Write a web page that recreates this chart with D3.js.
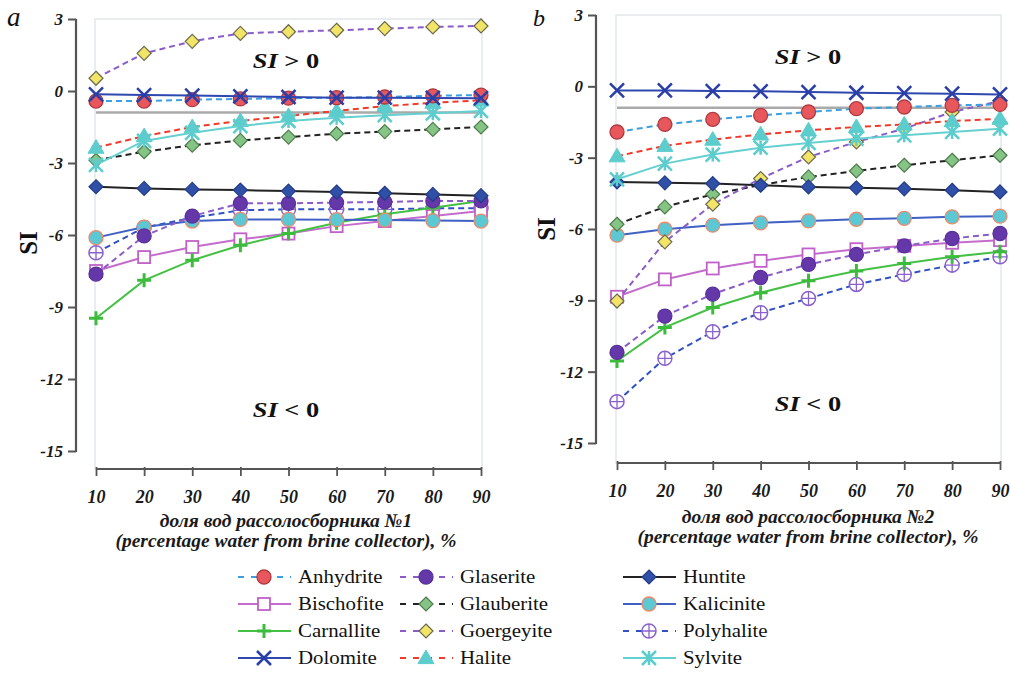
<!DOCTYPE html>
<html><head><meta charset="utf-8">
<script src="https://cdn.jsdelivr.net/npm/d3@7/dist/d3.min.js"></script>
<style>
body{margin:0;background:#fff;}
text{font-family:"Liberation Serif","Times New Roman",serif;}
</style></head>
<body><svg id="c" width="1011" height="676"></svg>
<script>
// ---------- DATA ----------
const xValues = [10,20,30,40,50,60,70,80,90];
const yTicks = [3,0,-3,-6,-9,-12,-15];
const refLine = -0.9;
const minerals = ["Anhydrite","Bischofite","Carnallite","Dolomite","Glaserite","Glauberite","Goergeyite","Halite","Huntite","Kalicinite","Polyhalite","Sylvite"];

// panel a
const aAnhydrite  = [-0.42,-0.42,-0.36,-0.33,-0.30,-0.28,-0.25,-0.20,-0.17];
const aBischofite = [-7.50,-6.92,-6.50,-6.18,-5.94,-5.63,-5.42,-5.21,-5.00];
const aCarnallite = [-9.47,-7.89,-7.05,-6.43,-5.94,-5.49,-5.14,-4.86,-4.58];
const aDolomite   = [-0.14,-0.17,-0.19,-0.22,-0.25,-0.28,-0.28,-0.29,-0.30];
const aGlaserite  = [-7.63,-6.04,-5.21,-4.68,-4.68,-4.65,-4.62,-4.58,-4.58];
const aGlauberite = [-2.89,-2.53,-2.26,-2.06,-1.92,-1.78,-1.69,-1.60,-1.50];
const aGoergeyite = [0.53,1.57,2.07,2.40,2.47,2.53,2.60,2.67,2.71];
const aHalite     = [-2.36,-1.88,-1.50,-1.25,-1.04,-0.83,-0.63,-0.49,-0.39];
const aHuntite    = [-3.99,-4.06,-4.10,-4.13,-4.17,-4.21,-4.26,-4.31,-4.36];
const aKalicinite = [-6.11,-5.67,-5.42,-5.35,-5.35,-5.36,-5.38,-5.40,-5.42];
const aPolyhalite = [-6.74,-5.69,-5.28,-4.97,-4.93,-4.93,-4.93,-4.89,-4.89];
const aSylvite    = [-3.08,-2.08,-1.74,-1.46,-1.25,-1.11,-1.01,-0.93,-0.83];

// panel b
const bAnhydrite  = [-1.92,-1.60,-1.39,-1.22,-1.08,-0.94,-0.87,-0.80,-0.76];
const bBischofite = [-8.85,-8.12,-7.66,-7.34,-7.07,-6.85,-6.71,-6.58,-6.47];
const bCarnallite = [-11.55,-10.14,-9.30,-8.68,-8.18,-7.77,-7.45,-7.17,-6.96];
const bDolomite   = [-0.17,-0.17,-0.20,-0.21,-0.24,-0.27,-0.29,-0.31,-0.34];
const bGlaserite  = [-11.19,-9.66,-8.74,-8.04,-7.49,-7.07,-6.71,-6.40,-6.19];
const bGlauberite = [-5.80,-5.07,-4.54,-4.15,-3.81,-3.56,-3.32,-3.11,-2.90];
const bGoergeyite = [-9.03,-6.54,-4.96,-3.88,-2.97,-2.34,-1.78,-1.08,-0.62];
const bHalite     = [-2.94,-2.50,-2.24,-2.02,-1.85,-1.71,-1.60,-1.46,-1.36];
const bHuntite    = [-4.02,-4.06,-4.09,-4.16,-4.23,-4.27,-4.31,-4.37,-4.44];
const bKalicinite = [-6.26,-6.01,-5.84,-5.74,-5.66,-5.59,-5.55,-5.49,-5.46];
const bPolyhalite = [-13.26,-11.44,-10.32,-9.52,-8.92,-8.33,-7.91,-7.52,-7.17];
const bSylvite    = [-3.91,-3.25,-2.87,-2.58,-2.38,-2.20,-2.06,-1.92,-1.78];

const panelAData = [aAnhydrite,aBischofite,aCarnallite,aDolomite,aGlaserite,aGlauberite,aGoergeyite,aHalite,aHuntite,aKalicinite,aPolyhalite,aSylvite];
const panelBData = [bAnhydrite,bBischofite,bCarnallite,bDolomite,bGlaserite,bGlauberite,bGoergeyite,bHalite,bHuntite,bKalicinite,bPolyhalite,bSylvite];

// ---------- STYLES ----------
const styles = {
  Anhydrite:  {line:"#3d9ee0", dash:"6,4", m:"circle", fill:"#e8575c", stroke:"#b03a3e"},
  Bischofite: {line:"#c46ccc", dash:null, m:"square", fill:"#fff", stroke:"#c060c8"},
  Carnallite: {line:"#44c044", dash:null, m:"plus", fill:"none", stroke:"#3cbc3c"},
  Dolomite:   {line:"#2e48b0", dash:null, m:"x", fill:"none", stroke:"#2a3ea8"},
  Glaserite:  {line:"#8a5cc8", dash:"6,4", m:"circle", fill:"#6438a8", stroke:"#5a309c"},
  Glauberite: {line:"#222", dash:"6,4", m:"diamond", fill:"#86c486", stroke:"#4c7c4c"},
  Goergeyite: {line:"#8a5cc8", dash:"6,4", m:"diamond", fill:"#f2e466", stroke:"#6a6a50"},
  Halite:     {line:"#f03a2a", dash:"6,4", m:"triangle", fill:"#5ccccc", stroke:"#5ccccc"},
  Huntite:    {line:"#222", dash:null, m:"diamond", fill:"#3050a8", stroke:"#223c88"},
  Kalicinite: {line:"#4060c4", dash:null, m:"circle", fill:"#5cc8d4", stroke:"#f08868"},
  Polyhalite: {line:"#3050c4", dash:"6,4", m:"circlecross", fill:"#fff", stroke:"#8a62cc"},
  Sylvite:    {line:"#66d0d0", dash:null, m:"asterisk", fill:"none", stroke:"#5ccccc"}
};

const svg = d3.select("#c");

function marker(g, type, x, y, st, s) {
  s = s || 7;
  if (type === "circle") {
    g.append("circle").attr("cx",x).attr("cy",y).attr("r",s).attr("fill",st.fill).attr("stroke",st.stroke).attr("stroke-width",1.3);
  } else if (type === "square") {
    g.append("rect").attr("x",x-s+1).attr("y",y-s+1).attr("width",2*s-2).attr("height",2*s-2).attr("fill",st.fill).attr("stroke",st.stroke).attr("stroke-width",1.8);
  } else if (type === "plus") {
    g.append("path").attr("d",`M${x-s},${y}H${x+s}M${x},${y-s}V${y+s}`).attr("stroke",st.stroke).attr("stroke-width",3);
  } else if (type === "x") {
    g.append("path").attr("d",`M${x-s},${y-s}L${x+s},${y+s}M${x-s},${y+s}L${x+s},${y-s}`).attr("stroke",st.stroke).attr("stroke-width",2.5);
  } else if (type === "asterisk") {
    g.append("path").attr("d",`M${x-s},${y-s}L${x+s},${y+s}M${x-s},${y+s}L${x+s},${y-s}M${x},${y-s}V${y+s}`).attr("stroke",st.stroke).attr("stroke-width",2.5);
  } else if (type === "diamond") {
    g.append("path").attr("d",`M${x},${y-s}L${x+s},${y}L${x},${y+s}L${x-s},${y}Z`).attr("fill",st.fill).attr("stroke",st.stroke).attr("stroke-width",1.2);
  } else if (type === "triangle") {
    g.append("path").attr("d",`M${x},${y-s-1}L${x+s+1},${y+s*0.8}L${x-s-1},${y+s*0.8}Z`).attr("fill",st.fill).attr("stroke",st.stroke);
  } else if (type === "circlecross") {
    g.append("circle").attr("cx",x).attr("cy",y).attr("r",s).attr("fill",st.fill).attr("stroke",st.stroke).attr("stroke-width",1.5);
    g.append("path").attr("d",`M${x-s},${y}H${x+s}M${x},${y-s}V${y+s}`).attr("stroke",st.stroke).attr("stroke-width",1.3);
  }
}

// text with horizontal stretch
function stretchedText(g, x, y, sx) {
  return g.append("g").attr("transform",`translate(${x},${y}) scale(${sx},1)`).append("text");
}

function panel(opt) {
  const x = d3.scaleLinear().domain([10,90]).range([opt.x0, opt.x1]);
  const y = d3.scaleLinear().domain([-15,3]).range([opt.yBottom, opt.yTop]);
  const g = svg.append("g");

  // faint plot frame
  g.append("rect").attr("x",opt.x0-1).attr("y",opt.yTop).attr("width",opt.x1-opt.x0+2).attr("height",opt.xAxisY-opt.yTop)
    .attr("fill","none").attr("stroke","#e4e8ec").attr("stroke-width",1.5);

  // y axis
  const ya = g.append("g").attr("transform",`translate(${opt.yAxisX},0)`)
    .call(d3.axisLeft(y).tickValues(yTicks).tickSize(8).tickFormat(d => String(d)));
  ya.select(".domain").attr("stroke","#555").attr("stroke-width",2.2).attr("d",`M0,${opt.yTop}V${opt.yBottom+1}`);
  ya.selectAll(".tick line").attr("stroke","#555").attr("stroke-width",2);
  ya.selectAll(".tick text").attr("font-weight","bold").attr("font-style","italic")
    .attr("font-size",17).attr("fill","#1a1a1a").attr("x",-13);

  // x axis
  const xa = g.append("g").attr("transform",`translate(0,${opt.xAxisY})`)
    .call(d3.axisBottom(x).tickValues(xValues).tickSize(6).tickFormat(d => String(d)));
  xa.select(".domain").attr("stroke","#555").attr("stroke-width",2.2).attr("d",`M${opt.x0},0H${opt.x1}`);
  xa.selectAll(".tick line").attr("stroke","#555").attr("stroke-width",1.8).attr("y1",-2).attr("y2",7);
  xa.selectAll(".tick text").attr("font-weight","bold").attr("font-style","italic")
    .attr("font-size",18).attr("fill","#1a1a1a").attr("y",21);

  // reference line
  g.append("line").attr("x1",opt.x0).attr("x2",opt.x1).attr("y1",y(refLine)).attr("y2",y(refLine))
    .attr("stroke","#aaa").attr("stroke-width",2.5);

  // series
  const line = d3.line().x((d,i)=>x(xValues[i])).y(d=>y(d));
  const order = [10,1,2,9,4,5,6,8,7,11,0,3];
  order.forEach(k => {
    const name = minerals[k], st = styles[name], vals = opt.data[k];
    const sg = g.append("g");
    sg.append("path").datum(vals).attr("d",line).attr("fill","none").attr("stroke",st.line)
      .attr("stroke-width",2).attr("stroke-dasharray",st.dash);
    vals.forEach((v,i)=>marker(sg, st.m, x(xValues[i]), y(v), st, 7));
  });

  // annotations
  [[opt.gtY," > 0"],[opt.ltY," < 0"]].forEach(([yy,txt])=>{
    const t = stretchedText(g, opt.cx, yy, 1.2).attr("text-anchor","middle").attr("font-size",22).attr("font-weight","bold").attr("fill","#111");
    t.append("tspan").attr("font-style","italic").text("SI");
    t.append("tspan").text(txt);
  });

  // y label
  g.append("text").attr("transform",`translate(${opt.ylabX},${opt.ylabY}) rotate(-90)`).attr("text-anchor","middle")
    .attr("font-size",25).attr("font-weight","bold").attr("fill","#111").text("SI");

  // panel letter
  g.append("text").attr("x",opt.letX).attr("y",26).attr("font-size",opt.letSize).attr("font-style","italic").attr("fill","#111").text(opt.letter);

  // x titles
  g.append("text").attr("x",opt.cx).attr("y",opt.xt1).attr("text-anchor","middle").attr("font-size",19.5).attr("font-weight","bold").attr("font-style","italic").attr("fill","#1a1a1a").text(opt.title1);
  g.append("text").attr("x",opt.cx).attr("y",opt.xt1+20).attr("text-anchor","middle").attr("font-size",19.5).attr("font-weight","bold").attr("font-style","italic").attr("fill","#1a1a1a").text("(percentage water from brine collector), %");
}

panel({x0:96, x1:481, yTop:19, yBottom:451, xAxisY:469, yAxisX:76, data:panelAData, cx:286, gtY:68, ltY:417,
  ylabX:37, ylabY:243, letX:7, letSize:27, letter:"a", xt1:527, title1:"доля вод рассолосборника №1"});
panel({x0:617, x1:1000, yTop:15, yBottom:443, xAxisY:463, yAxisX:596, data:panelBData, cx:808, gtY:64, ltY:411,
  ylabX:555, ylabY:229, letX:533, letSize:24, letter:"b", xt1:523, title1:"доля вод рассолосборника №2"});

// ---------- LEGEND ----------
const legCols = [238, 400, 623];
const legRows = [577, 604, 631, 658];
const lg = svg.append("g");
minerals.forEach((name,i)=>{
  const cx0 = legCols[Math.floor(i/4)], cy = legRows[i%4], st = styles[name];
  lg.append("line").attr("x1",cx0).attr("x2",cx0+53).attr("y1",cy).attr("y2",cy)
    .attr("stroke",st.line).attr("stroke-width",2.2).attr("stroke-dasharray",st.dash ? "6,7" : null);
  marker(lg, st.m, cx0+26, cy, st, 7);
  stretchedText(lg, cx0+60, cy+6, 1.16).attr("font-size",18).attr("fill","#111").text(name);
});
</script></body></html>
